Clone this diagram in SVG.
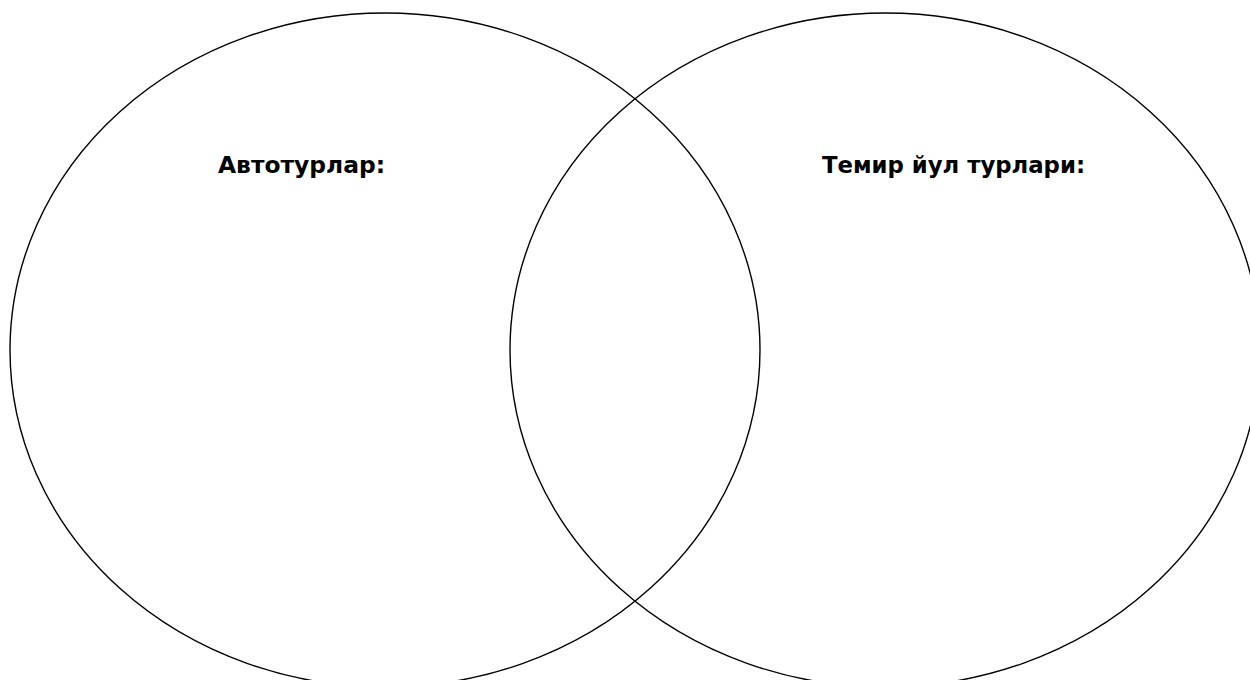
<svg xmlns="http://www.w3.org/2000/svg" width="1250" height="680" viewBox="0 0 1250 680">
<style>
.c{fill:none;stroke:#000;stroke-width:1.4}
.t{font-family:"DejaVu Sans",Verdana,sans-serif;font-weight:bold;font-size:22.5px;fill:#000}
</style>
<rect width="1250" height="680" fill="#fff"/>
<g id="left">
<ellipse class="c" cx="385" cy="350" rx="375" ry="337"/>
<text class="t" x="218" y="173" textLength="167" lengthAdjust="spacingAndGlyphs">Автотурлар:</text>
</g>
<g id="right">
<ellipse class="c" cx="885" cy="350" rx="375" ry="337"/>
<text class="t" x="822" y="173" textLength="263" lengthAdjust="spacingAndGlyphs">Темир йул турлари:</text>
</g>
<g id="connectors"></g>
</svg>
